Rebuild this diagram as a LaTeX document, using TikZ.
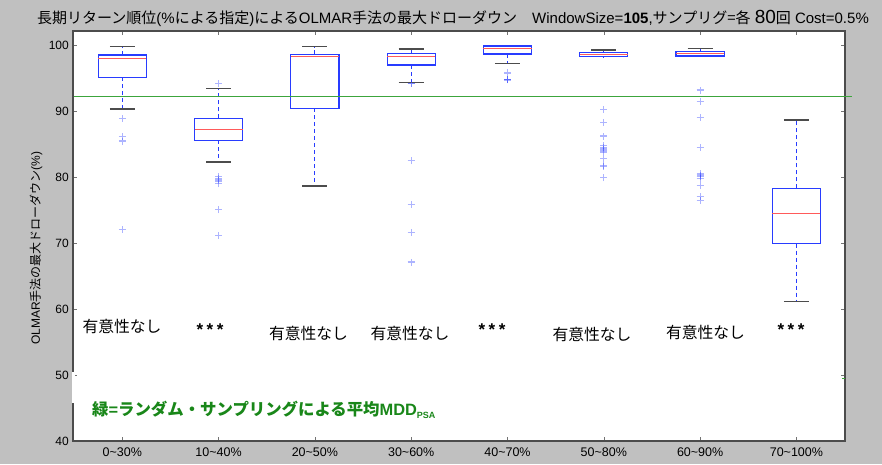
\documentclass[tikz,border=0pt]{standalone}
\usepackage{fontspec}
\setmainfont{Liberation Sans}
\newfontfamily\jp{Noto Sans CJK JP}
\definecolor{bggray}{RGB}{192,192,192}
\definecolor{boxblue}{RGB}{40,60,255}
\definecolor{medred}{RGB}{255,90,90}
\definecolor{avggreen}{RGB}{60,165,60}
\definecolor{txtgreen}{RGB}{25,135,25}

\begin{document}
\begin{tikzpicture}[x=1pt,y=-1pt]
\tikzstyle{every node}+=[inner sep=0pt]
\tikzstyle{bx}=[draw=boxblue, line width=1.1pt]
\tikzstyle{med}=[draw=medred, line width=0.9pt]
\tikzstyle{wsk}=[draw=boxblue, line width=1.1pt, dash pattern=on 4pt off 3pt]
\tikzstyle{whiskcap}=[draw=black!70, line width=1.1pt]
\tikzstyle{otl}=[draw=boxblue, opacity=0.38, line width=1.2pt]
\tikzstyle{frame}=[draw=black!70, line width=1.3pt]
\tikzstyle{tk}=[draw=black!55, line width=0.6pt]
\tikzstyle{sig}=[font=\fontsize{15.8}{16}\selectfont\jp]
\tikzstyle{stars}=[font=\fontsize{17}{17}\selectfont\bfseries]
\useasboundingbox (0,0) rectangle (882,464);
\fill [bggray] (0,0) rectangle (882,464);
\fill [white] (73,31) rectangle (845,441);
% title
\node [anchor=west, font=\fontsize{15}{16}\selectfont] (title) at (37,18)
  {{\jp 長期リターン順位}(\%{\jp による指定}){\jp による}OLMAR{\jp 手法の最大ドローダウン}\quad
   WindowSize=\textbf{105},{\jp サンプリグ=各} {\fontsize{19}{19}\selectfont 80}{\jp 回} Cost=0.5\%};
% y axis label
\node [rotate=90, font=\fontsize{12}{12}\selectfont] (ylab) at (36,248)
  {OLMAR{\jp 手法の最大ドローダウン}(\%)};
% y ticks
\foreach \v in {40,50,...,100} {
  \draw [tk] (73,705-6.6*\v) -- (77,705-6.6*\v);
  \draw [tk] (845,705-6.6*\v) -- (841,705-6.6*\v);
  \node [anchor=east, font=\fontsize{12}{12}\selectfont] (yl\v) at (69,705-6.6*\v) {\v};
}
% x ticks
\foreach \i/\lab in {1/0\textasciitilde30\%,2/10\textasciitilde40\%,3/20\textasciitilde50\%,4/30\textasciitilde60\%,
                     5/40\textasciitilde70\%,6/50\textasciitilde80\%,7/60\textasciitilde90\%,8/70\textasciitilde100\%} {
  \draw [tk] (26+96.3*\i,441) -- (26+96.3*\i,437);
  \draw [tk] (26+96.3*\i,31) -- (26+96.3*\i,35);
  \node [font=\fontsize{12.5}{12}\selectfont] (xl\i) at (26+96.3*\i,452) {\lab};
}
\draw [frame] (73,31) rectangle (845,441);
\fill [white] (72,372) rectangle (75,403);
\draw [avggreen, line width=0.8pt] (842,378) -- (845,378);
% boxes
\begin{scope}[shift={(26,705)}, x=96.3pt, y=6.6pt]
\foreach \i/\lw/\qa/\md/\qc/\uw in {1/90.3/95.1/97.98/98.48/99.74, 2/82.27/85.56/87.22/88.89/93.38,
    3/78.64/90.4/98.23/98.58/99.74, 4/94.34/96.97/98.33/98.69/99.39, 5/97.22/98.64/99.5/99.85/99.95,
    6/98.2/98.23/98.59/98.84/99.24, 7/98.23/98.33/98.7/99.04/99.5, 8/61.1/69.9/74.55/78.28/88.64} {
  \draw [wsk] (\i,\qa) -- (\i,\lw);
  \draw [wsk] (\i,\qc) -- (\i,\uw);
  \draw [whiskcap] (\i-0.13,\lw) -- (\i+0.13,\lw);
  \draw [whiskcap] (\i-0.13,\uw) -- (\i+0.13,\uw);
  \draw [bx] (\i-0.25,\qa) rectangle (\i+0.25,\qc);
  \draw [med] (\i-0.25,\md) -- (\i+0.25,\md);
}
% outliers
\foreach \i/\v in {1/88.9, 1/86.1, 1/85.45, 1/72.07,
    2/94.14, 2/80.05, 2/79.7, 2/79.4, 2/79.0, 2/75.05, 2/71.16,
    4/94.2, 4/94.2, 4/82.5, 4/75.86, 4/71.6, 4/67.12,
    5/95.76, 5/94.8, 5/94.8, 5/94.7,
    6/90.25, 6/88.3, 6/86.2, 6/84.8, 6/84.4, 6/84.1, 6/83.8, 6/82.8, 6/81.7, 6/81.6, 6/79.9,
    7/93.18, 7/91.47, 7/89.04, 7/84.5, 7/80.56, 7/80.3, 7/80.1, 7/79.8, 7/78.68, 7/77.0, 7/76.5}
  \draw [otl] (\i,\v) +(-3.5pt,0) -- +(3.5pt,0) +(0,-3.5pt) -- +(0,3.5pt);
\draw [avggreen, line width=1.3pt] (0.5,92.17) -- (8.58,92.17);
\end{scope}
% significance
\node [sig] (s1) at (122,326) {有意性なし};
\node [stars] (s2) at (210,330) {*\kern3.5pt*\kern3.5pt*};
\node [sig] (s3) at (308.5,333) {有意性なし};
\node [sig] (s4) at (410,333) {有意性なし};
\node [stars] (s5) at (492,330) {*\kern3.5pt*\kern3.5pt*};
\node [sig] (s6) at (592,334) {有意性なし};
\node [sig] (s7) at (705.5,332) {有意性なし};
\node [stars] (s8) at (791,330) {*\kern3.5pt*\kern3.5pt*};
% legend
\node [anchor=west, text=txtgreen, font=\fontsize{16.4}{16}\selectfont\bfseries] (avg) at (92,410)
  {{\jp 緑}={\jp ランダム・サンプリングによる平均}MDD\raisebox{-0.4ex}{\fontsize{9}{9}\selectfont PSA}};
\end{tikzpicture}
\end{document}
